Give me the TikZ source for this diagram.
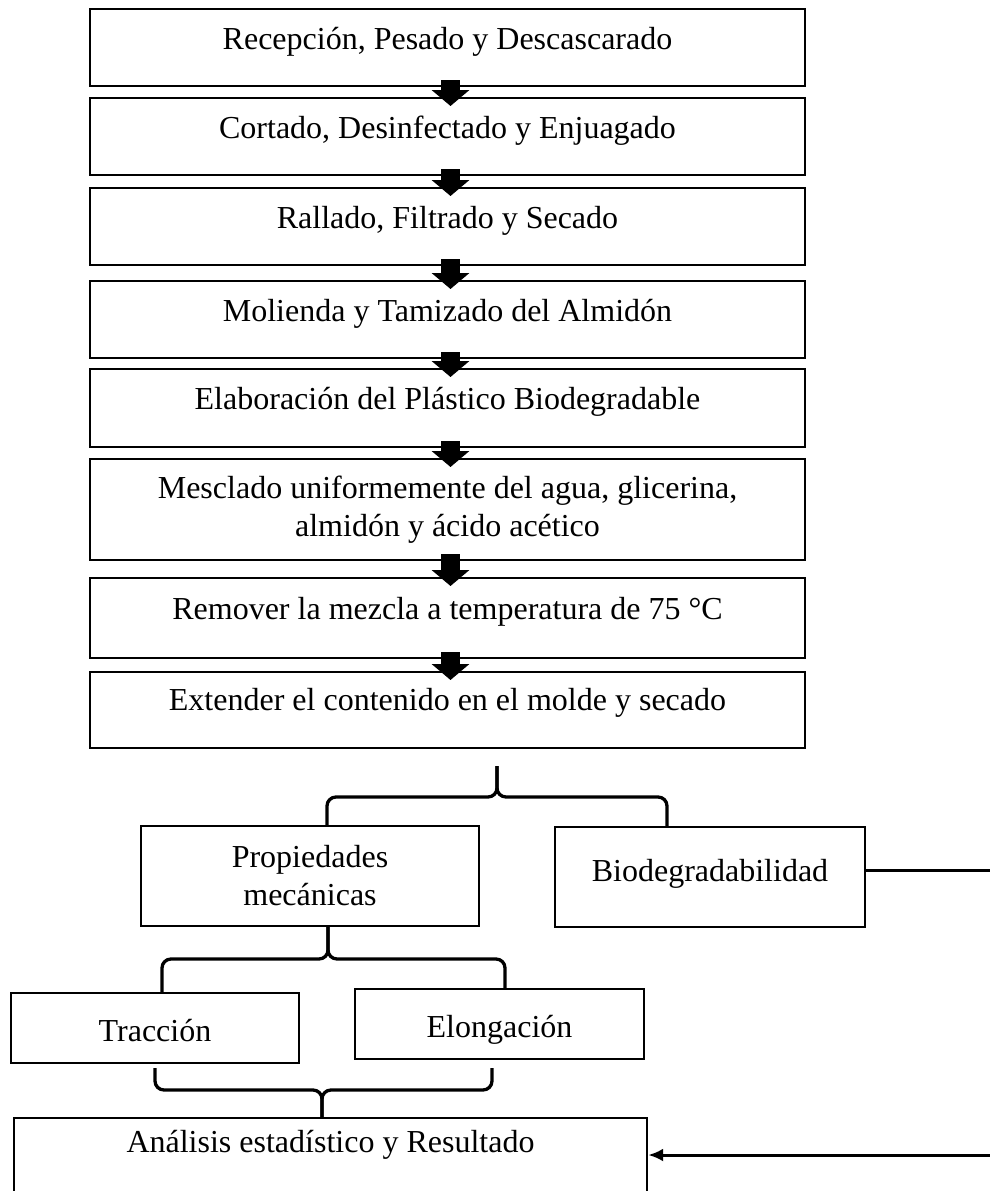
\documentclass[tikz,border=0pt]{standalone}
\usepackage{fontspec}
\setmainfont{Liberation Serif}
\usetikzlibrary{arrows.meta}

\begin{document}
\begin{tikzpicture}[>={Latex[length=15pt,width=13pt]}, x=1pt, y=-1pt,
    caja/.style={draw, line width=2.4pt, inner sep=0pt, align=center, font=\fontsize{32}{38}\selectfont},
    flecha/.style={line width=19pt, -{Triangle[width=37pt,length=16pt]}},
    llave/.style={line width=3.3pt, rounded corners=9pt},
    linea/.style={line width=3pt}]
\useasboundingbox (0,0) rectangle (989,1191);

% proceso
\node[caja, anchor=north, minimum width=715pt, text height=40pt, text depth=37pt] (recepcion) at (447.5,8) {Recepción, Pesado y Descascarado};
\node[caja, anchor=north, minimum width=715pt, text height=40pt, text depth=37pt] (cortado) at (447.5,97) {Cortado, Desinfectado y Enjuagado};
\node[caja, anchor=north, minimum width=715pt, text height=40pt, text depth=37pt] (rallado) at (447.5,187) {Rallado, Filtrado y Secado};
\node[caja, anchor=north, minimum width=715pt, text height=40pt, text depth=37pt] (molienda) at (447.5,280) {Molienda y Tamizado del Almidón};
\node[caja, anchor=north, minimum width=715pt, text height=40pt, text depth=38pt] (elaboracion) at (447.5,368) {Elaboración del Plástico Biodegradable};
\node[caja, anchor=north, minimum width=715pt, minimum height=101pt] (mesclado) at (447.5,458) {Mesclado uniformemente del agua, glicerina,\\almidón y ácido acético};
\node[caja, anchor=north, minimum width=715pt, text height=41pt, text depth=39pt] (remover) at (447.5,577) {Remover la mezcla a temperatura de 75 °C};
\node[caja, anchor=north, minimum width=715pt, text height=38pt, text depth=38pt] (extender) at (447.5,671) {Extender el contenido en el molde y secado};

\foreach \a/\b in {recepcion/cortado, cortado/rallado, rallado/molienda, molienda/elaboracion,
    elaboracion/mesclado, mesclado/remover, remover/extender}
    \draw[flecha] ([xshift=3pt,yshift=7pt]\a.south) -- ([xshift=3pt,yshift=-9pt]\b.north);

% ensayos
\node[caja, minimum width=338pt, minimum height=100pt] (propiedades) at (310,876) {Propiedades\\mecánicas};
\node[caja, anchor=north, minimum width=310pt, text height=54pt, text depth=46pt] (biodeg) at (710,826) {Biodegradabilidad};
\node[caja, anchor=north, minimum width=288pt, text height=48pt, text depth=22pt] (traccion) at (155,992) {Tracción};
\node[caja, anchor=north, minimum width=289pt, text height=48pt, text depth=22pt] (elongacion) at (499.5,988) {Elongación};
\node[caja, anchor=north, minimum width=633pt, text height=34pt, text depth=100pt] (analisis) at (330.5,1117) {Análisis estadístico y Resultado};

% llaves
\coordinate (r1) at (497,766);
\draw[llave] (r1) |- (327,797) -- (327,0 |- propiedades.north);
\draw[llave] (r1) |- (667,797) -- (667,0 |- biodeg.north);
\draw[llave] (328,0 |- propiedades.south) |- (162,959) -- (162,0 |- traccion.north);
\draw[llave] (328,0 |- propiedades.south) |- (505,959) -- (505,0 |- elongacion.north);
\coordinate (r3i) at (155,1068);
\coordinate (r3d) at (492,1068);
\draw[llave] (r3i) |- (322,1090) -- (322,0 |- analisis.north);
\draw[llave] (r3d) |- (322,1090) -- (322,0 |- analisis.north);

\draw[linea, ->] ([yshift=7pt]biodeg.east) -- ++(135,0) |- (analisis.north east |- 0,1155);
\end{tikzpicture}
\end{document}
